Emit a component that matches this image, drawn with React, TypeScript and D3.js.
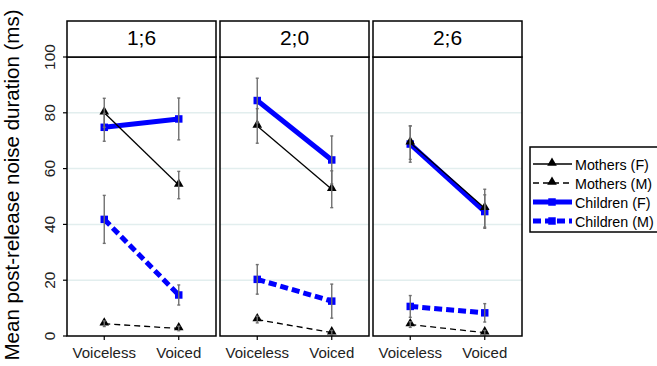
import React from "react";
import * as d3 from "d3";

const ages = ["1;6", "2;0", "2;6"];
const voicing = ["Voiceless", "Voiced"];
const yTicks = [0, 20, 40, 60, 80, 100];
const gridTicks = [20, 40, 60, 80];

const seriesNames = ["Mothers (F)", "Mothers (M)", "Children (F)", "Children (M)"];
// values per age: [Voiceless, Voiced]
const mothersF = [[80, 54.1], [75.3, 52.6], [69.3, 45.8]];
const mothersFErr = [[5.2, 4.9], [6.2, 6.6], [6, 6.8]];
const mothersM = [[4.4, 2.7], [5.9, 1.2], [4.1, 1.2]];
const mothersMErr = [[1, 0.8], [1.2, 0.8], [1, 0.8]];
const childrenF = [[74.8, 77.8], [84.4, 63.1], [68.8, 44.6]];
const childrenFErr = [[5, 7.5], [8, 8.6], [6.5, 6]];
const childrenM = [[41.8, 14.7], [20.3, 12.5], [10.6, 8.3]];
const childrenMErr = [[8.6, 3.6], [5.3, 6.1], [3.9, 3.3]];

const W = 657;
const H = 366;
const FONT = "'Liberation Sans', Arial, Helvetica, sans-serif";
const BLUE = "#0000ff";

const styles = [
  { color: "#000", width: 1.3, dash: null as string | null, shape: "tri" },
  { color: "#000", width: 1.3, dash: "6,4", shape: "tri" },
  { color: BLUE, width: 5, dash: null as string | null, shape: "sq" },
  { color: BLUE, width: 5, dash: "8,4", shape: "sq" },
];

const seriesData = [mothersF, mothersM, childrenF, childrenM];
const seriesErr = [mothersFErr, mothersMErr, childrenFErr, childrenMErr];
const drawOrder = [3, 2, 1, 0];

export default function App() {
  const plotTop = 57;
  const plotBottom = 336;
  const stripTop = 21;

  const xPanel = d3
    .scaleBand<string>()
    .domain(ages)
    .range([67, 522])
    .paddingInner(4 / 153);
  const bw = xPanel.bandwidth();
  const xIn = d3.scalePoint<string>().domain(voicing).range([0, bw]).padding(0.5);
  const y = d3.scaleLinear().domain([0, 100]).range([plotBottom, plotTop]);

  const tri = d3.symbol().type(d3.symbolTriangle).size(40)() as string;
  const sq = d3.symbol().type(d3.symbolSquare).size(56)() as string;

  const line = d3
    .line<[number, number]>()
    .x((d) => d[0])
    .y((d) => d[1]);

  return (
    <svg
      width={W}
      height={H}
      style={{ position: "absolute", left: 0, top: 0, background: "#fff" }}
      fontFamily={FONT}
    >
      <rect width={W} height={H} fill="#fff" />
      {/* Y title */}
      <text
        transform={`translate(19,185) rotate(-90)`}
        textAnchor="middle"
        fontSize={20.5}
        fill="#000"
      >
        Mean post-release noise duration (ms)
      </text>

      {/* Y axis ticks & labels */}
      {yTicks.map((t) => (
        <g key={"yt" + t}>
          <line x1={63} x2={67} y1={y(t)} y2={y(t)} stroke="#000" strokeWidth={1.2} />
          <text
            transform={`translate(55,${y(t)}) rotate(-90)`}
            textAnchor="middle"
            fontSize={15.5}
            fill="#222"
          >
            {t}
          </text>
        </g>
      ))}

      {ages.map((age, ai) => {
        const x0 = xPanel(age) as number;
        return (
          <g key={age}>
            {/* gridlines */}
            {gridTicks.map((t) => (
              <line
                key={t}
                x1={x0}
                x2={x0 + bw}
                y1={y(t)}
                y2={y(t)}
                stroke="#e2eeee"
                strokeWidth={1.5}
              />
            ))}
            {/* series */}
            {drawOrder.map((si) => {
              const st = styles[si];
              const pts: [number, number][] = voicing.map((v, vi) => [
                x0 + (xIn(v) as number),
                y(seriesData[si][ai][vi]),
              ]);
              return (
                <g key={si}>
                  <path
                    d={line(pts) as string}
                    fill="none"
                    stroke={st.color}
                    strokeWidth={st.width}
                    strokeDasharray={st.dash ?? undefined}
                  />
                  {pts.map((p, k) => (
                    <path
                      key={k}
                      d={st.shape === "tri" ? tri : sq}
                      transform={`translate(${p[0]},${p[1] - (st.shape === "tri" ? 1 : 0)})`}
                      fill={st.color}
                    />
                  ))}
                </g>
              );
            })}
            {/* error bars */}
            {drawOrder.map((si) =>
              voicing.map((v, vi) => {
                const cx = x0 + (xIn(v) as number);
                const m = seriesData[si][ai][vi];
                const e = seriesErr[si][ai][vi];
                const y1 = y(m + e);
                const y2 = y(Math.max(0, m - e));
                return (
                  <g key={si + "-" + vi} stroke="#707070" strokeWidth={1.4}>
                    <line x1={cx} x2={cx} y1={y1} y2={y2} />
                    <line x1={cx - 1.5} x2={cx + 1.5} y1={y1} y2={y1} />
                    <line x1={cx - 1.5} x2={cx + 1.5} y1={y2} y2={y2} />
                  </g>
                );
              })
            )}
            {/* panel border */}
            <rect
              x={x0}
              y={plotTop}
              width={bw}
              height={plotBottom - plotTop}
              fill="none"
              stroke="#000"
              strokeWidth={1.5}
            />
            {/* strip */}
            <rect
              x={x0}
              y={stripTop}
              width={bw}
              height={plotTop - stripTop}
              fill="#fff"
              stroke="#000"
              strokeWidth={1.5}
            />
            <text
              x={x0 + bw / 2}
              y={45}
              textAnchor="middle"
              fontSize={21}
              fill="#000"
            >
              {age}
            </text>
            {/* x ticks */}
            {voicing.map((v) => (
              <g key={v}>
                <line
                  x1={x0 + (xIn(v) as number)}
                  x2={x0 + (xIn(v) as number)}
                  y1={plotBottom}
                  y2={plotBottom + 4}
                  stroke="#000"
                  strokeWidth={1.2}
                />
                <text
                  x={x0 + (xIn(v) as number)}
                  y={358}
                  textAnchor="middle"
                  fontSize={15}
                  fill="#222"
                >
                  {v}
                </text>
              </g>
            ))}
          </g>
        );
      })}

      {/* Legend */}
      <rect x={530} y={147} width={140} height={85} fill="#fff" stroke="#000" strokeWidth={1.5} />
      {seriesNames.map((name, i) => {
        const st = styles[i];
        const ly = 164 + i * 19;
        return (
          <g key={name}>
            <line
              x1={533}
              x2={572}
              y1={ly}
              y2={ly}
              stroke={st.color}
              strokeWidth={st.width}
              strokeDasharray={st.dash ?? undefined}
            />
            <path
              d={st.shape === "tri" ? tri : sq}
              transform={`translate(552,${ly - (st.shape === "tri" ? 1 : 0)})`}
              fill={st.color}
            />
            <text x={575} y={ly + 5.5} fontSize={14.3} fill="#000">
              {name}
            </text>
          </g>
        );
      })}
    </svg>
  );
}
